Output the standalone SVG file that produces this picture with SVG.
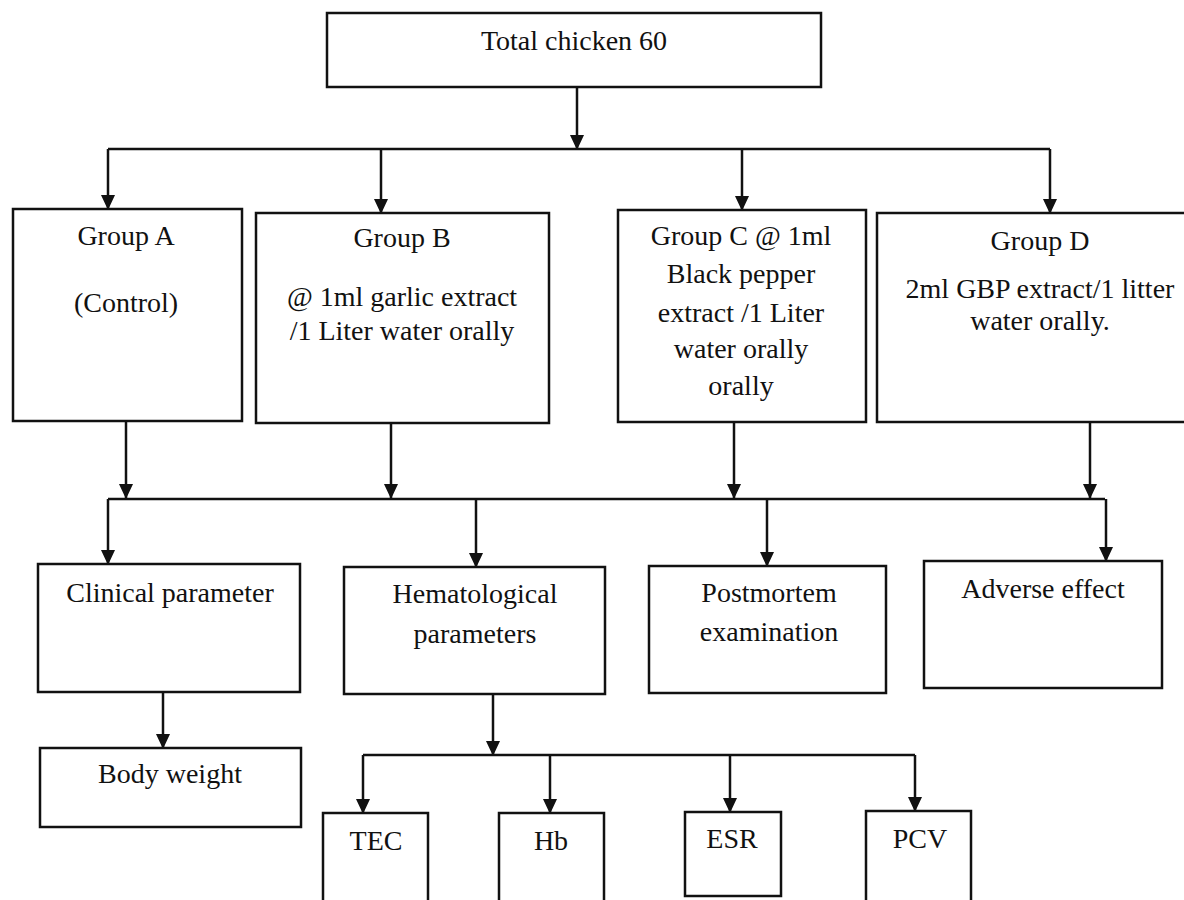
<svg xmlns="http://www.w3.org/2000/svg" width="1184" height="900" viewBox="0 0 1184 900">
<defs>
<marker id="ah" markerUnits="userSpaceOnUse" markerWidth="16" markerHeight="16" viewBox="0 0 16 16" refX="14" refY="8" orient="auto">
<path d="M0,1 L15,8 L0,15 Z" fill="#111"/>
</marker>
<style>
.box{fill:#fff;stroke:#111;stroke-width:2.5}
.ln{fill:none;stroke:#111;stroke-width:2.5}
.ar{fill:none;stroke:#111;stroke-width:2.5;marker-end:url(#ah)}
text{font-family:"Liberation Serif","Times New Roman",serif;font-size:28px;fill:#111;text-anchor:middle}
</style>
</defs>
<rect width="1184" height="900" fill="#fff"/>
<g id="connectors">
<path class="ar" d="M577,87 V149"/>
<path class="ln" d="M108,149 H1050"/>
<path class="ar" d="M108,149 V209"/>
<path class="ar" d="M381,149 V213"/>
<path class="ar" d="M742,149 V210"/>
<path class="ar" d="M1050,149 V213"/>
<path class="ar" d="M126,421 V498"/>
<path class="ar" d="M391,423 V498"/>
<path class="ar" d="M734,422 V498"/>
<path class="ar" d="M1090,418 V498"/>
<path class="ln" d="M108,499 H1105"/>
<path class="ar" d="M108,499 V564"/>
<path class="ar" d="M476,499 V567"/>
<path class="ar" d="M767,499 V566"/>
<path class="ar" d="M1106,499 V561"/>
<path class="ar" d="M163,692 V748"/>
<path class="ar" d="M493,694 V755"/>
<path class="ln" d="M363,755 H915"/>
<path class="ar" d="M363,755 V813"/>
<path class="ar" d="M550,755 V813"/>
<path class="ar" d="M730,755 V812"/>
<path class="ar" d="M915,755 V811"/>
</g>
<g id="total"><rect class="box" x="327" y="13" width="494" height="74"/><text x="574" y="50">Total chicken 60</text></g>
<g id="groupA"><rect class="box" x="13" y="209" width="229" height="212"/><text x="126" y="245">Group A</text><text x="126" y="312">(Control)</text></g>
<g id="groupB"><rect class="box" x="256" y="213" width="293" height="210"/><text x="402" y="247">Group B</text><text x="402" y="306">@ 1ml garlic extract</text><text x="402" y="340">/1 Liter water orally</text></g>
<g id="groupC"><rect class="box" x="618" y="210" width="248" height="212"/><text x="741" y="245">Group C @ 1ml</text><text x="741" y="283">Black pepper</text><text x="741" y="322">extract /1 Liter</text><text x="741" y="358">water orally</text><text x="741" y="395">orally</text></g>
<g id="groupD"><rect class="box" x="877" y="213" width="320" height="209"/><text x="1040" y="250">Group D</text><text x="1040" y="298">2ml GBP extract/1 litter</text><text x="1040" y="330">water orally.</text></g>
<g id="clinical"><rect class="box" x="38" y="564" width="262" height="128"/><text x="170" y="602">Clinical parameter</text></g>
<g id="hemat"><rect class="box" x="344" y="567" width="261" height="127"/><text x="475" y="603">Hematological</text><text x="475" y="643">parameters</text></g>
<g id="postmortem"><rect class="box" x="649" y="566" width="237" height="127"/><text x="769" y="602">Postmortem</text><text x="769" y="641">examination</text></g>
<g id="adverse"><rect class="box" x="924" y="561" width="238" height="127"/><text x="1043" y="598">Adverse effect</text></g>
<g id="bodyweight"><rect class="box" x="40" y="748" width="261" height="79"/><text x="170" y="783">Body weight</text></g>
<g id="tec"><rect class="box" x="323" y="813" width="105" height="100"/><text x="376" y="850">TEC</text></g>
<g id="hb"><rect class="box" x="499" y="813" width="105" height="100"/><text x="551" y="850">Hb</text></g>
<g id="esr"><rect class="box" x="685" y="812" width="96" height="84"/><text x="732" y="848">ESR</text></g>
<g id="pcv"><rect class="box" x="866" y="811" width="105" height="100"/><text x="920" y="848">PCV</text></g>
</svg>
